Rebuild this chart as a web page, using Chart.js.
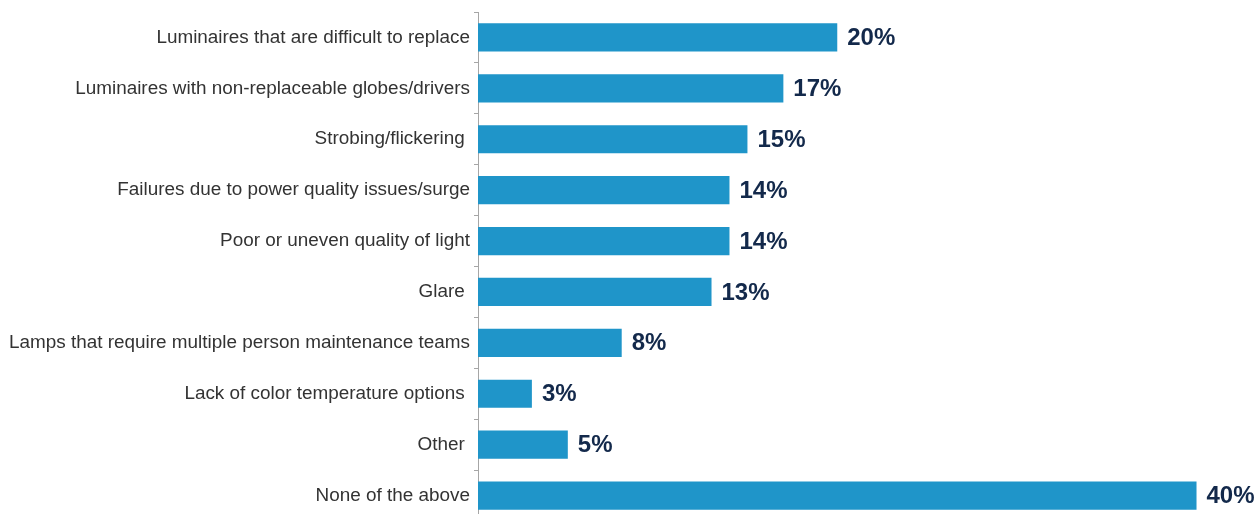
<!DOCTYPE html>
<html>
<head>
<meta charset="utf-8">
<script src="https://cdn.jsdelivr.net/npm/chart.js@4/dist/chart.umd.min.js"></script>
<style>
  html, body { margin: 0; padding: 0; background: #fff; overflow: hidden; }
  /* last band runs a few pixels past the bottom of the window */
  #wrap { position: relative; width: 1259px; height: 521px; }
</style>
</head>
<body>
<div id="wrap"><canvas id="issuesChart"></canvas></div>
<script>
// Reported LED luminaire issues (% of respondents)
const categories = [
    'Luminaires that are difficult to replace',
    'Luminaires with non-replaceable globes/drivers',
    'Strobing/flickering ',
    'Failures due to power quality issues/surge',
    'Poor or uneven quality of light',
    'Glare ',
    'Lamps that require multiple person maintenance teams',
    'Lack of color temperature options ',
    'Other ',
    'None of the above'
];
const percentages = [20, 17, 15, 14, 14, 13, 8, 3, 5, 40];

// Bold value labels at the end of each bar
const valueLabels = {
    id: 'valueLabels',
    afterDatasetsDraw(chart) {
        const ctx = chart.ctx;
        const meta = chart.getDatasetMeta(0);
        ctx.save();
        ctx.font = 'bold 24px "Liberation Sans", Arial, sans-serif';
        ctx.fillStyle = '#13294b';
        ctx.textAlign = 'left';
        ctx.textBaseline = 'middle';
        meta.data.forEach((bar, i) => {
            ctx.fillText(percentages[i] + '%', bar.x + 10, bar.y + 1);
        });
        ctx.restore();
    }
};

new Chart(document.getElementById('issuesChart'), {
    type: 'bar',
    data: {
        labels: categories,
        datasets: [{
            data: percentages,
            backgroundColor: '#1f95c9',
            borderWidth: 0,
            categoryPercentage: 1,
            barPercentage: 0.555
        }]
    },
    options: {
        indexAxis: 'y',
        responsive: true,
        maintainAspectRatio: false,
        animation: false,
        layout: { padding: { top: 12, right: 5, left: 0, bottom: 0 } },
        plugins: {
            legend: { display: false },
            tooltip: { enabled: false }
        },
        scales: {
            x: {
                display: false,
                min: 0,
                max: 43.2
            },
            y: {
                afterFit(scale) {
                    scale.width = 478;
                    scale.paddingTop = 0;
                    scale.paddingBottom = 0;
                },
                grid: {
                    drawOnChartArea: false,
                    tickLength: 4,
                    color: '#a6a6a6'
                },
                border: { color: '#a6a6a6', width: 1 },
                ticks: {
                    color: '#333333',
                    padding: 4,
                    font: { family: '"Liberation Sans", Arial, sans-serif', size: 18.9 }
                }
            }
        }
    },
    plugins: [valueLabels]
});
</script>
</body>
</html>
